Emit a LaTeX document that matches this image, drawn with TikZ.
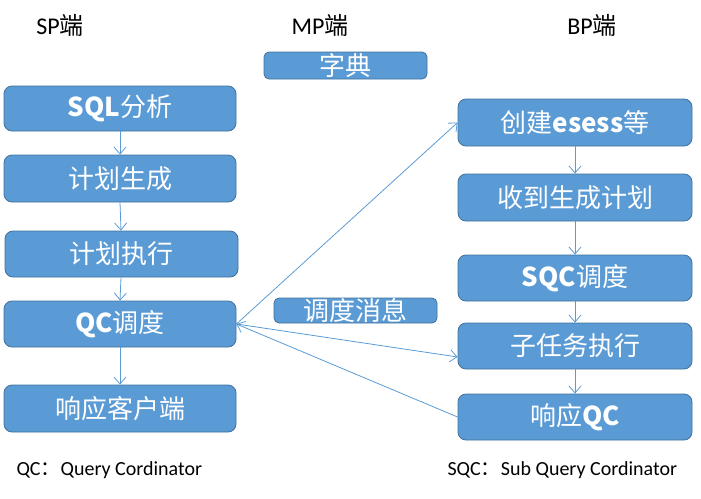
\documentclass[tikz,border=0pt]{standalone}
\usepackage{fontspec}
\newfontfamily\cjk{Noto Sans CJK SC}
\newfontfamily\lat{Carlito}
\usetikzlibrary{arrows.meta}
\definecolor{boxfill}{HTML}{5B9BD5}
\definecolor{boxline}{HTML}{41719C}
\tikzset{
  box/.style={draw=boxline, line width=0.8pt, fill=boxfill, rounded corners=8pt,
    text=white, font=\cjk\fontsize{26}{30}\selectfont, inner sep=0pt, anchor=center},
  conn/.style={draw=boxfill, line width=0.8pt, -{Straight Barb[length=7pt,width=12pt]}},
  title/.style={font=\fontsize{24}{28}\selectfont, text=black, anchor=center},
  note/.style={font=\fontsize{20}{24}\selectfont, text=black, anchor=west}
}
\begin{document}
\begin{tikzpicture}[x=1pt,y=-1pt]
\useasboundingbox (0,0) rectangle (701,498);
% titles
\node[title] (tsp) at (60,25) {{\lat SP}{\cjk 端}};
\node[title] (tmp) at (320,25) {{\lat MP}{\cjk 端}};
\node[title] (tbp) at (592,25) {{\lat BP}{\cjk 端}};
% left column
\node[box, minimum width=232pt, minimum height=45pt] (sql) at (120,108.5) {{\bfseries SQL}分析};
\node[box, minimum width=232pt, minimum height=47pt] (plan) at (120,178.5) {计划生成};
\node[box, minimum width=233pt, minimum height=46pt] (exec) at (121.5,254) {计划执行};
\node[box, minimum width=232pt, minimum height=46pt] (qc) at (120,324) {{\bfseries QC}调度};
\node[box, minimum width=232pt, minimum height=47pt] (resp) at (120,408.5) {响应客户端};
% middle
\node[box, rounded corners=5pt, minimum width=163pt, minimum height=27pt] (dict) at (345.5,65.5) {字典};
\node[box, rounded corners=5pt, minimum width=163pt, minimum height=25pt] (msg) at (355.5,310.5) {调度消息};
% right column
\node[box, minimum width=234pt, minimum height=47pt] (create) at (575,122.5) {创建{\bfseries esess}等};
\node[box, minimum width=234pt, minimum height=47pt] (recv) at (575,197.5) {收到生成计划};
\node[box, minimum width=234pt, minimum height=46pt] (sqc) at (575,278) {{\bfseries SQC}调度};
\node[box, minimum width=234pt, minimum height=46pt] (sub) at (575,346) {子任务执行};
\node[box, minimum width=234pt, minimum height=46pt] (respqc) at (575,417) {响应{\bfseries QC}};
% notes
\node[note] (nqc) at (13,470) {{\lat QC}{\cjk ：}{\lat Query Cordinator}};
\node[note] (nsqc) at (444,470) {{\lat SQC}{\cjk ：}{\lat Sub Query Cordinator}};
% connectors
\draw[conn] (sql) -- (plan);
\draw[conn] (plan.south) -- ([xshift=1pt]exec.north -| plan.south);
\draw[conn] ([xshift=1pt]exec.south -| plan.south) -- (qc.north);
\draw[conn] (qc) -- (resp);
\draw[conn] (create) -- (recv);
\draw[conn] (recv) -- (sqc);
\draw[conn] (sqc) -- (sub);
\draw[conn] (sub) -- (respqc);
\draw[conn] (qc.east) -- (create.west);
\draw[conn] (qc.east) -- ([yshift=-11pt]sub.west);
\draw[conn] (respqc.west) -- (qc.east);
\end{tikzpicture}
\end{document}
